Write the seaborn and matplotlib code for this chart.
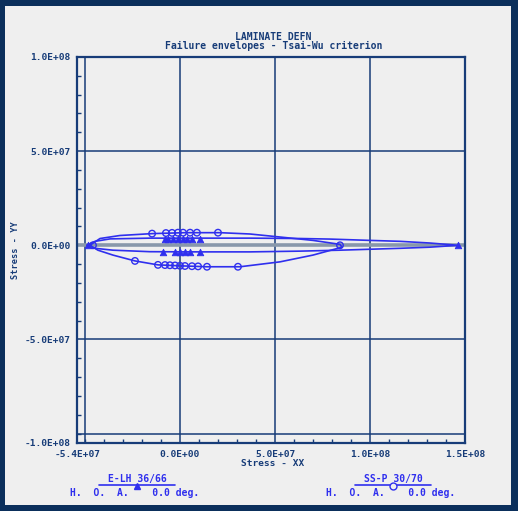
import matplotlib
matplotlib.use("Agg")
import matplotlib.pyplot as plt
import pandas as pd
import seaborn as sns
from matplotlib.patches import Rectangle
from matplotlib.lines import Line2D
from matplotlib.ticker import MultipleLocator

# ---------------- data (stresses in units of 1e6) ----------------
UNIT = 1e6

# Laminate 1 (triangles): "E-LH 36/66"
lam1_env_x = [-49.0, -44.7, -36.8, -15.8, 10.5, 36.8, 63.2, 78.9, 100.0, 115.8, 131.6, 146.3,
              131.6, 115.8, 100.0, 84.2, 63.2, 36.8, 10.5, -15.8, -35.3, -44.7, -49.0]
lam1_env_y = [0.0, 2.1, 3.4, 3.8, 3.8, 3.8, 3.6, 3.3, 2.6, 2.1, 1.2, 0.0,
              -1.0, -1.6, -2.1, -2.6, -3.1, -3.5, -3.5, -3.4, -2.6, -1.6, 0.0]
lam1_pts_x = [-7.9, -6.3, -3.7, -1.1, 1.6, 3.7, 6.3, 10.5,
              -8.9, -2.6, 0.0, 2.6, 5.3, 10.5, -48.4, 146.3]
lam1_pts_y = [3.6, 3.6, 3.6, 3.6, 3.6, 3.6, 3.6, 3.6,
              -3.5, -3.5, -3.5, -3.5, -3.5, -3.5, 0.0, 0.0]

# Laminate 2 (circles): "SS-P 30/70"
lam2_env_x = [-47.4, -42.1, -31.6, -14.7, 2.6, 21.1, 36.8, 52.6, 70.0, 84.2, 85.3,
              70.0, 52.6, 31.6, 14.2, 0.0, -11.6, -23.7, -35.3, -43.2, -47.4]
lam2_env_y = [0.0, 3.6, 5.2, 6.2, 6.7, 6.7, 6.0, 4.4, 2.6, 0.5, -1.0,
              -5.2, -8.8, -11.4, -11.4, -10.9, -10.4, -8.3, -5.2, -2.6, 0.0]
lam2_pts_x = [-14.7, -7.4, -4.2, -1.1, 1.6, 5.3, 8.9, 20.0,
              -23.7, -11.6, -7.9, -5.3, -2.6, 0.0, 2.6, 6.3, 9.5, 14.2, 30.5,
              -45.8, 84.2]
lam2_pts_y = [6.2, 6.5, 6.6, 6.7, 6.7, 6.7, 6.7, 6.7,
              -8.3, -10.4, -10.5, -10.6, -10.7, -10.9, -11.0, -11.1, -11.2, -11.4, -11.4,
              0.0, 0.0]

lam_names = ["E-LH 36/66", "SS-P 30/70"]
lam_orient = "H.  O.  A.    0.0 deg."

x_ticks = [-54.0, 0.0, 50.0, 100.0, 150.0]
x_ticklabels = ["-5.4E+07", "0.0E+00", "5.0E+07", "1.0E+08", "1.5E+08"]
y_ticks = [100.0, 50.0, 0.0, -50.0, -105.0]
y_ticklabels = ["1.0E+08", "5.0E+07", "0.0E+00", "-5.0E+07", "-1.0E+08"]
grid_x = [-50.0, 0.0, 50.0, 100.0]
grid_y = [50.0, -50.0, -100.0]

title1 = "LAMINATE DEFN"
title2 = "Failure envelopes - Tsai-Wu criterion"
xlabel = "Stress - XX"
ylabel = "Stress - YY"

# ---------------- styling ----------------
NAVY = "#173c78"
BLUE = "#2f2fee"
PANEL = "#efefef"
BORDER = "#0b2f5b"
FONT = ['DejaVu Sans Mono', 'DejaVu Sans']

sns.set_theme(style="white")
plt.rcParams['font.family'] = FONT

W, H = 518, 511
fig = plt.figure(figsize=(W / 100, H / 100), dpi=100, facecolor=BORDER)
fig.patches.append(Rectangle((5 / W, 6 / H), (511 - 5) / W, (505 - 6) / H,
                             transform=fig.transFigure, facecolor=PANEL,
                             edgecolor="none", zorder=-5))

def fx(px):
    return px / W

def fy(py):
    return 1 - py / H

ax = fig.add_axes([fx(77.4), fy(443), (465 - 77.4) / W, (443 - 57) / H])
ax.set_zorder(2)
ax.set_facecolor(PANEL)

env1 = pd.DataFrame({"x": [v * UNIT for v in lam1_env_x], "y": [v * UNIT for v in lam1_env_y]})
env2 = pd.DataFrame({"x": [v * UNIT for v in lam2_env_x], "y": [v * UNIT for v in lam2_env_y]})
pts1 = pd.DataFrame({"x": [v * UNIT for v in lam1_pts_x], "y": [v * UNIT for v in lam1_pts_y]})
pts2 = pd.DataFrame({"x": [v * UNIT for v in lam2_pts_x], "y": [v * UNIT for v in lam2_pts_y]})

# grid
for gx in grid_x:
    ax.axvline(gx * UNIT, color=NAVY, lw=1.1, zorder=1)
for gy in grid_y:
    ax.axhline(gy * UNIT, color=NAVY, lw=1.1, zorder=1)
ax.axhline(0, color="#8898ab", lw=2.6, zorder=1)

sns.lineplot(data=env1, x="x", y="y", sort=False, estimator=None, color=BLUE, lw=1.2, ax=ax, zorder=3)
sns.lineplot(data=env2, x="x", y="y", sort=False, estimator=None, color=BLUE, lw=1.2, ax=ax, zorder=3)
sns.scatterplot(data=pts1, x="x", y="y", marker="^", s=22, color=BLUE, edgecolor=BLUE, linewidth=0.6, ax=ax, zorder=4)
sns.scatterplot(data=pts2, x="x", y="y", marker="o", s=22, facecolor="none", edgecolor=BLUE, linewidth=1.0, ax=ax, zorder=4)

ax.set_xlim(-54 * UNIT, 150 * UNIT)
ax.set_ylim(-105 * UNIT, 100 * UNIT)
ax.set_xticks([v * UNIT for v in x_ticks])
ax.set_xticklabels(x_ticklabels)
ax.set_yticks([v * UNIT for v in y_ticks])
ax.set_yticklabels(y_ticklabels)
ax.xaxis.set_minor_locator(MultipleLocator(10 * UNIT))
ax.yaxis.set_minor_locator(MultipleLocator(10 * UNIT))
ax.tick_params(which="major", length=0, pad=5, labelsize=6.8, labelcolor=NAVY)
ax.tick_params(which="minor", direction="in", length=3, width=1, color=NAVY,
               left=True, bottom=True, right=False, top=False)
for lbl in ax.get_xticklabels() + ax.get_yticklabels():
    lbl.set_fontweight("bold")
ax.set_xlabel("")
ax.set_ylabel("")
for s in ax.spines.values():
    s.set_color(NAVY)
    s.set_linewidth(1.6)

# titles / axis labels
fig.text(fx(273), fy(37), title1, ha="center", va="center", fontsize=7, color=NAVY, fontweight="bold")
fig.text(fx(274), fy(46), title2, ha="center", va="center", fontsize=7, color=NAVY, fontweight="bold")
fig.text(fx(273), fy(464), xlabel, ha="center", va="center", fontsize=6.8, color=NAVY, fontweight="bold")
fig.text(fx(15), fy(250), ylabel, ha="center", va="center", rotation=90, fontsize=6.2, color=NAVY, fontweight="bold")

# legend
legend_items = [(137, "^", "full"), (393, "o", "none")]
for (cx, mk, fill), name in zip(legend_items, lam_names):
    fig.text(fx(cx), fy(479), name, ha="center", va="center", fontsize=7, color=BLUE, fontweight="bold")
    fig.add_artist(Line2D([fx(cx - 38), fx(cx + 38)], [fy(485), fy(485)], color=BLUE, lw=1.2,
                          transform=fig.transFigure))
    fig.add_artist(Line2D([fx(cx)], [fy(486)], marker=mk, markersize=5,
                          markerfacecolor=BLUE if fill == "full" else PANEL,
                          markeredgecolor=BLUE, transform=fig.transFigure))
    fig.text(fx(cx - 2), fy(493), lam_orient, ha="center", va="center", fontsize=7, color=BLUE, fontweight="bold")

fig.savefig("out.png", dpi=100, facecolor=BORDER)
